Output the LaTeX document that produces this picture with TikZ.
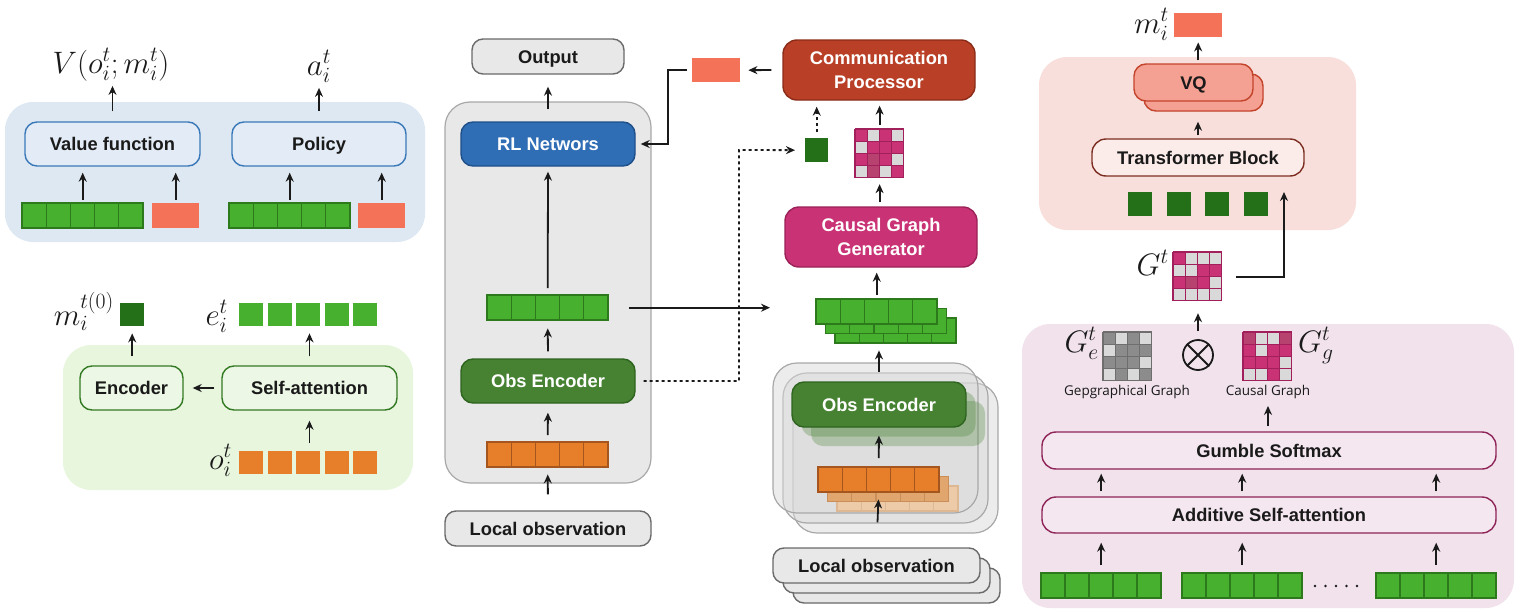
\RequirePackage{fix-cm}
\documentclass[tikz,border=0pt]{standalone}
\usepackage[no-math]{fontspec}
\setmainfont{Liberation Sans}
\newfontfamily\lab{Liberation Sans}
\newfontfamily\capf{Open Sans}
\usetikzlibrary{arrows.meta,calc}
\definecolor{txt}{HTML}{1A1A1A}
\definecolor{bluepanel}{HTML}{DDE8F3}
\definecolor{bluebox}{HTML}{E3ECF6}
\definecolor{blueb}{HTML}{3A78B8}
\definecolor{greenpanel}{HTML}{E7F6DD}
\definecolor{greenbox}{HTML}{ECF8E5}
\definecolor{greenb}{HTML}{347A24}
\definecolor{cgreen}{HTML}{47B02E}
\definecolor{cgreenb}{HTML}{2C7A1C}
\definecolor{dgreen}{HTML}{247018}
\definecolor{corange}{HTML}{E67E2A}
\definecolor{corangeb}{HTML}{A4561E}
\definecolor{corangeB}{HTML}{E1A56E}
\definecolor{corangeBb}{HTML}{C98E5A}
\definecolor{corangeC}{HTML}{EDCBA8}
\definecolor{corangeCb}{HTML}{DDB892}
\definecolor{salmon}{HTML}{F47358}
\definecolor{graypanel}{HTML}{E8E8E8}
\definecolor{graypb}{HTML}{A8A8A8}
\definecolor{grayb}{HTML}{6A6A6A}
\definecolor{rlblue}{HTML}{2F6EB5}
\definecolor{rlblueb}{HTML}{1F4F8A}
\definecolor{obsg}{HTML}{478232}
\definecolor{obsgb}{HTML}{2E6420}
\definecolor{commc}{HTML}{B94027}
\definecolor{commb}{HTML}{8A2C18}
\definecolor{cggc}{HTML}{C93375}
\definecolor{cggb}{HTML}{9A2258}
\definecolor{pinkpanel}{HTML}{F8DFDB}
\definecolor{vqc}{HTML}{F4A193}
\definecolor{vqb}{HTML}{C4432B}
\definecolor{tbc}{HTML}{FBECE9}
\definecolor{tbb}{HTML}{7C2E22}
\definecolor{purppanel}{HTML}{F1E2EC}
\definecolor{purpbox}{HTML}{F4E7F0}
\definecolor{purpb}{HTML}{8E2457}
\definecolor{cM}{HTML}{C93375}
\definecolor{cL}{HTML}{D9D9D9}
\definecolor{cD}{HTML}{B8426F}
\definecolor{cG}{HTML}{8C8C8C}
\definecolor{matb}{HTML}{A1205C}
\definecolor{matgb}{HTML}{6E6E6E}
% name, x, y, n, cell width, fill, draw
\newcommand\cellvec[7]{%
  \foreach \k in {1,...,#4}{\draw[fill=#6,draw=#7,line width=1.2pt] ({#2+(\k-1)*#5},#3) rectangle ++(#5,25);}%
  \pgfmathsetmacro\vw{#4*#5}%
  \node[inner sep=0,minimum width=\vw pt,minimum height=25pt,anchor=north west] (#1) at (#2,#3) {};}
% name, x, y, n, w, h, pitch, fill
\newcommand\gapvec[8]{%
  \foreach \k in {1,...,#4}{\fill[#8] ({#2+(\k-1)*#7},#3) rectangle ++(#5,#6);}%
  \pgfmathsetmacro\vw{(#4-1)*#7+#5}%
  \node[inner sep=0,minimum width=\vw pt,minimum height=#6 pt,anchor=north west] (#1) at (#2,#3) {};}
% name, x, y, border colour, list of 16 colours
\newcommand\gmat[5]{%
  \foreach \c [count=\k from 0] in {#5}{%
    \pgfmathtruncatemacro\rr{floor(\k/4)}%
    \pgfmathtruncatemacro\cc{mod(\k,4)}%
    \fill[\c] ({#2+\cc*12.2},{#3+\rr*12.2}) rectangle ++(12.2,12.2);}%
  \foreach \k in {0,...,4}{%
    \draw[#4,line width=1.3pt] ({#2+\k*12.2},#3) -- ++(0,48.8);
    \draw[#4,line width=1.3pt] (#2,{#3+\k*12.2}) -- ++(48.8,0);}%
  \node[inner sep=0,minimum size=48.8pt,anchor=north west] (#1) at (#2,#3) {};}
\begin{document}
\begin{tikzpicture}[x=1pt,y=-1pt,
  arr/.style={-{Stealth[length=9pt,width=8pt]},line width=1.8pt,draw=txt},
  box/.style={rounded corners=12pt,line width=1.4pt,inner sep=0,text=txt,
    font=\lab\bfseries\fontsize{18.3}{24}\selectfont,align=center},
  onel/.style={text height=13.2pt,text depth=0pt},
  panel/.style={rounded corners=28pt,inner sep=0,draw=none},
  mathl/.style={inner sep=0,text=txt,font=\fontsize{31}{34}\selectfont},
  capt/.style={inner sep=2pt,text=txt,font=\capf\fontsize{13.5}{16}\selectfont},
  stackp/.style={rounded corners=24pt,draw=graypb,line width=1.2pt,fill=black!15,fill opacity=0.5,
    minimum width=205pt,minimum height=150pt,inner sep=0},
  locb/.style={box,onel,rounded corners=11pt,draw=grayb,fill=graypanel,minimum width=206pt,minimum height=35pt},
]
\useasboundingbox (0,0) rectangle (1519,613);

% ===== left top (blue) panel =====
\node[panel,fill=bluepanel,minimum width=420pt,minimum height=140pt] (bluep) at (215,172) {};
\node[box,onel,draw=blueb,fill=bluebox,minimum width=175pt,minimum height=44pt] (vf) at (112.5,144) {Value function};
\node[box,onel,draw=blueb,fill=bluebox,minimum width=174pt,minimum height=44pt] (pol) at (319,144) {Policy};
\cellvec{vA}{22}{203}{5}{24.2}{cgreen}{cgreenb}
\node[inner sep=0,fill=salmon,minimum width=47pt,minimum height=25pt,anchor=north west] (sA) at (152,203) {};
\cellvec{vB}{229}{203}{5}{24.2}{cgreen}{cgreenb}
\node[inner sep=0,fill=salmon,minimum width=47pt,minimum height=25pt,anchor=north west] (sB) at (358,203) {};
\node[mathl,anchor=base] (Vl) at (111,73) {$V(o_i^t;m_i^t)$};
\node[mathl,anchor=base] (al) at (319,75) {$a_i^t$};
\draw[arr,shorten <=10pt,shorten >=5pt] (vf.north) -- (vf.north |- Vl.south);
\draw[arr,shorten <=10pt,shorten >=5pt] (pol.north) -- (pol.north |- al.south);
\draw[arr,shorten <=3pt,shorten >=6pt] (vA.north) -- (vA.north |- vf.south);
\draw[arr,shorten <=3pt,shorten >=6pt] (sA.north) -- (sA.north |- vf.south);
\draw[arr,shorten <=3pt,shorten >=6pt] (vB.north) -- (vB.north |- pol.south);
\draw[arr,shorten <=3pt,shorten >=6pt] (sB.north) -- (sB.north |- pol.south);

% ===== left bottom (green) panel =====
\node[panel,fill=greenpanel,minimum width=350pt,minimum height=145pt] (greenp) at (238,417.5) {};
\node[box,onel,draw=greenb,fill=greenbox,minimum width=103pt,minimum height=44pt] (enc) at (131.5,388) {Encoder};
\node[box,onel,draw=greenb,fill=greenbox,minimum width=175pt,minimum height=44pt] (sa) at (309.5,388) {Self-attention};
\node[inner sep=0,fill=dgreen,minimum width=24pt,minimum height=23pt,anchor=north west] (m0) at (120,303) {};
\node[mathl,anchor=base east] (m0l) at (114,325) {$m_i^{t(0)}$};
\gapvec{ev}{239}{303}{5}{24}{23}{28.6}{cgreen}
\node[mathl,anchor=base east] (el) at (228,325) {$e_i^t$};
\gapvec{ov}{239}{451}{5}{24}{23}{28.6}{corange}
\node[mathl,anchor=base east] (ol) at (232,469) {$o_i^t$};
\draw[arr,shorten <=9pt,shorten >=7pt] (m0.south |- enc.north) -- (m0.south);
\draw[arr,shorten <=9pt,shorten >=7pt] (sa.north) -- (sa.north |- ev.south);
\draw[arr,shorten <=8pt,shorten >=10pt] (sa.south |- ov.north) -- (sa.south);
\draw[arr,shorten <=7pt,shorten >=9pt] (sa.west) -- (enc.east);

% ===== middle column =====
\node[box,onel,rounded corners=11pt,draw=grayb,fill=graypanel,minimum width=152pt,minimum height=35pt] (out) at (548,56.5) {Output};
\node[panel,rounded corners=25pt,draw=graypb,line width=1.2pt,fill=graypanel,minimum width=206pt,minimum height=381pt] (grayp) at (548,292.5) {};
\node[box,onel,draw=rlblueb,fill=rlblue,text=white,minimum width=174pt,minimum height=44pt] (rl) at (548,144) {RL Networs};
\cellvec{vM}{487}{295}{5}{24.2}{cgreen}{cgreenb}
\node[box,onel,draw=obsgb,fill=obsg,text=white,minimum width=174pt,minimum height=44pt] (obs) at (548,381) {Obs Encoder};
\cellvec{vO}{487}{442}{5}{24.2}{corange}{corangeb}
\node[locb] (loc) at (548,528.5) {Local observation};
\draw[arr,shorten <=12pt,shorten >=12pt] (rl.north) -- (out.south);
\draw[arr,shorten <=7pt,shorten >=5pt] (vM.north) -- (rl.south);
\draw[arr,shorten <=7pt,shorten >=8pt] (obs.north) -- (vM.south);
\draw[arr,shorten <=7pt,shorten >=9pt] (vO.north) -- (obs.south);
\draw[arr,shorten <=16pt,shorten >=7pt] (loc.north) -- (vO.south);

% ===== communication column =====
\node[box,rounded corners=14pt,draw=commb,fill=commc,text=white,minimum width=192pt,minimum height=60pt] (comm) at (879,70) {Communication\\Processor};
\node[inner sep=0,fill=salmon,minimum width=48pt,minimum height=24pt,anchor=north west] (salM) at (692,58) {};
\node[box,rounded corners=14pt,draw=cggb,fill=cggc,text=white,minimum width=192pt,minimum height=60pt] (cgg) at (881,237) {Causal Graph\\Generator};
\gmat{matC}{855}{129}{matb}{cM,cL,cM,cL, cL,cM,cM,cM, cM,cD,cM,cL, cL,cD,cL,cM}
\node[inner sep=0,fill=dgreen,minimum width=23pt,minimum height=24pt,anchor=north west] (sqM) at (805,138) {};
\cellvec{gvC}{835}{318}{5}{24.2}{cgreen}{cgreenb}
\cellvec{gvB}{825.5}{308.5}{5}{24.2}{cgreen}{cgreenb}
\cellvec{gvA}{816}{299}{5}{24.2}{cgreen}{cgreenb}
% stacked observation panels
\node[stackp] (spC) at (895.5,458) {};
\node[stackp] (spB) at (885.5,448) {};
\node[stackp] (spA) at (875.5,438) {};
\node[box,draw=none,fill=obsg,fill opacity=0.3,minimum width=174pt,minimum height=45pt] (obsC) at (898,423.5) {};
\node[box,draw=none,fill=obsg,fill opacity=0.3,minimum width=174pt,minimum height=45pt] (obsB) at (888.5,414) {};
\node[box,onel,draw=obsgb,fill=obsg,text=white,minimum width=174pt,minimum height=45pt] (obsS) at (879,404.5) {Obs Encoder};
\cellvec{oC}{837}{486}{5}{24.2}{corangeC}{corangeCb}
\cellvec{oB}{827.5}{476.5}{5}{24.2}{corangeB}{corangeBb}
\cellvec{oA}{818}{467}{5}{24.2}{corange}{corangeb}
\node[locb,minimum width=207pt] (locC) at (896.5,585.5) {};
\node[locb,minimum width=207pt] (locB) at (886.5,575.5) {};
\node[locb,minimum width=207pt] (locS) at (876.5,565.5) {Local observation};
\draw[arr,shorten <=25pt,shorten >=7pt] (locS.north) -- (oA.south);
\draw[arr,shorten <=9pt,shorten >=8pt] (oA.north) -- (obsS.south);
\draw[arr,shorten <=9pt,shorten >=7pt] (obsS.north) -- (obsS.north |- gvC.south);
\draw[arr,shorten <=4pt,shorten >=5pt] (gvA.north) -- (gvA.north |- cgg.south);
\draw[arr,shorten <=4pt,shorten >=6pt] (cgg.north -| matC.south) -- (matC.south);
\draw[arr,shorten <=4pt,shorten >=5pt] (matC.north) -- (matC.north |- comm.south);
\draw[arr,dash pattern=on 3pt off 3pt,shorten <=6pt,shorten >=6pt] (sqM.north) -- (sqM.north |- comm.south);
\draw[arr,shorten <=11pt,shorten >=8pt] (comm.west) -- (salM.east);
\coordinate (bend) at (668,144);
\draw[arr,shorten <=5pt,shorten >=5pt] (salM.west) -| (bend) -- (rl.east);
\coordinate (dk) at (739,150);
\draw[arr,dash pattern=on 3pt off 3pt,shorten <=8pt,shorten >=10pt] (obs.east) -| (dk) -- (sqM.west);
\draw[arr,shorten <=21pt,shorten >=46pt] (vM.east) -- (vM.east -| gvA.west);

% ===== right top (pink) panel =====
\node[panel,fill=pinkpanel,minimum width=317pt,minimum height=173pt] (pinkp) at (1197.5,143.5) {};
\node[box,draw=vqb,fill=vqc,minimum width=119pt,minimum height=37pt] (vqs) at (1203.5,92.5) {};
\node[box,onel,draw=vqb,fill=vqc,minimum width=119pt,minimum height=37pt] (vq) at (1193.5,82.5) {VQ};
\node[box,onel,rounded corners=14pt,draw=tbb,fill=tbc,minimum width=212pt,minimum height=37pt] (tb) at (1198,157.5) {Transformer Block};
\gapvec{dsq}{1128}{192}{4}{24}{24}{38.5}{dgreen}
\node[inner sep=0,fill=salmon,minimum width=48pt,minimum height=24pt,anchor=north west] (salT) at (1174,13) {};
\node[mathl,anchor=base east] (mtl) at (1169,33) {$m_i^t$};
\draw[arr,shorten <=3pt,shorten >=5pt] (salT.south |- vq.north) -- (salT.south);
\draw[arr,shorten <=3pt,shorten >=10pt] (tb.north) -- (tb.north |- vqs.south);

% ===== right bottom (purple) panel =====
\gmat{matG}{1173}{252}{matb}{cM,cL,cL,cL, cL,cL,cM,cM, cM,cD,cM,cL, cL,cL,cL,cL}
\node[mathl,anchor=base east] (Gl) at (1169,275) {$G^t$};
\coordinate (gup) at (1284,192);
\draw[arr,shorten <=14pt] (matG.east) -| (gup);
\node[panel,fill=purppanel,minimum width=492pt,minimum height=284pt] (purpp) at (1268,466) {};
\gmat{matE}{1103}{332}{matgb}{cG,cL,cG,cL, cL,cG,cG,cG, cG,cG,cG,cL, cL,cG,cL,cG}
\node[mathl,anchor=base east] (Gel) at (1099,352) {$G_e^t$};
\node[circle,draw=txt,line width=1.8pt,minimum size=30pt,inner sep=0] (otm) at (1198,355) {};
\draw[txt,line width=1.8pt] (otm.north east) -- (otm.south west) (otm.north west) -- (otm.south east);
\gmat{matGg}{1243}{332}{matb}{cD,cL,cL,cD, cM,cL,cM,cM, cM,cM,cM,cL, cL,cL,cM,cL}
\node[mathl,anchor=base west] (Ggl) at (1298,352) {$G_g^t$};
\node[capt] (get) at (1127,392) {Gepgraphical Graph};
\node[capt] (cgt) at (1268,392) {Causal Graph};
\draw[arr,shorten <=8pt,shorten >=12pt] (otm.north) -- (otm.north |- matG.south);
\node[box,onel,rounded corners=14pt,draw=purpb,fill=purpbox,minimum width=454pt,minimum height=37pt] (gum) at (1269,450.5) {Gumble Softmax};
\node[box,onel,rounded corners=14pt,draw=purpb,fill=purpbox,minimum width=454pt,minimum height=36pt] (ads) at (1269,515) {Additive Self-attention};
\draw[arr,shorten <=5pt,shorten >=5pt] (gum.north -| cgt.south) -- (cgt.south);
\cellvec{w1}{1041}{573}{5}{24}{cgreen}{cgreenb}
\cellvec{w2}{1182}{573}{5}{24}{cgreen}{cgreenb}
\cellvec{w3}{1376}{573}{5}{24}{cgreen}{cgreenb}
\foreach \k in {0,...,4}{\fill[txt] ({1315+\k*10.5},586) circle (1.4);}
\foreach \w in {w1,w2,w3}{%
  \draw[arr,shorten <=8pt,shorten >=9pt] (\w.north) -- (\w.north |- ads.south);
  \draw[arr,shorten <=5pt,shorten >=4pt] (\w.north |- ads.north) -- (\w.north |- gum.south);}
\end{tikzpicture}
\end{document}
